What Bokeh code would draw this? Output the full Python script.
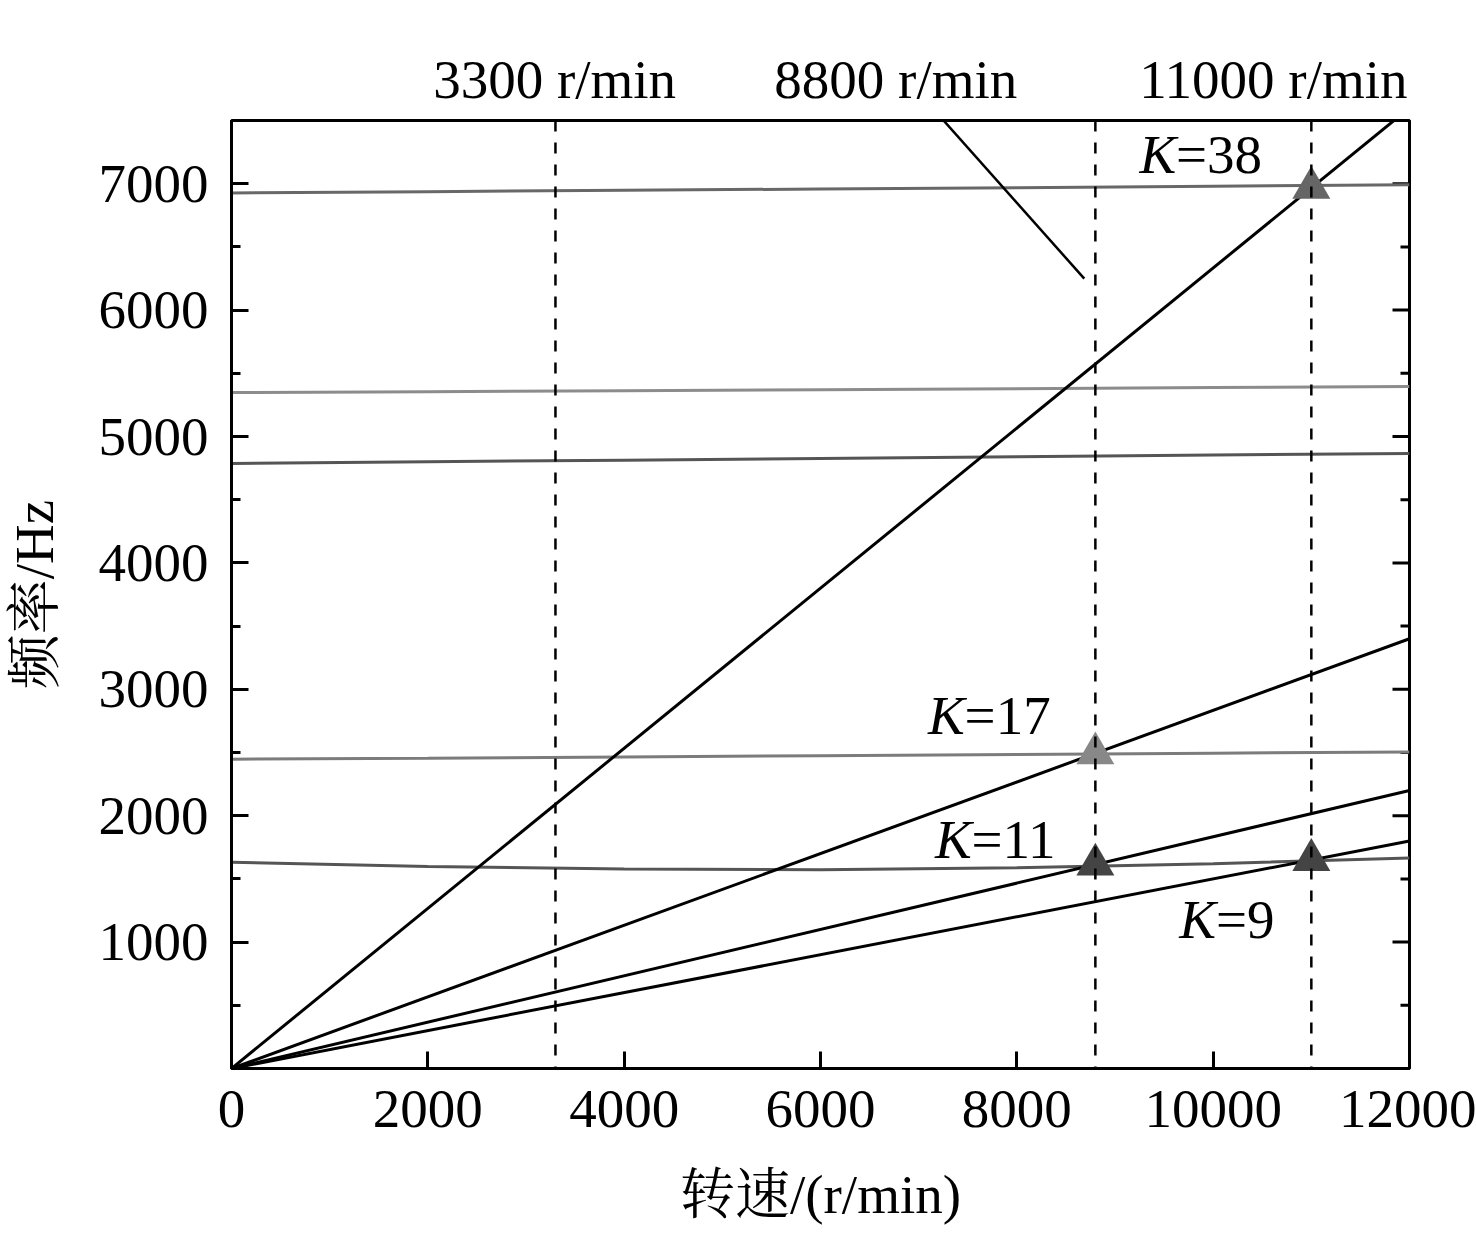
from bokeh.plotting import figure
from bokeh.models import Range1d, LinearAxis, FixedTicker, Span, Arrow
from bokeh.core.properties import value
from bokeh.embed import file_html
from bokeh.resources import INLINE

# ---- data ----
speed = [0, 12000]                      # r/min
orders = ["38", "17", "11", "9"]
exc_end = [7600, 3400, 2200, 1800]      # excitation frequency at 12000 r/min

nat_x = [0, 2000, 4000, 6000, 8000, 10000, 12000]
nat_a = [6927, 6937, 6948, 6958, 6968, 6980, 6992]
nat_b = [5348, 5355, 5362, 5370, 5378, 5387, 5395]
nat_c = [4787, 4800, 4813, 4826, 4840, 4853, 4866]
nat_d = [2447, 2455, 2465, 2475, 2485, 2495, 2504]
nat_e = [1632, 1598, 1578, 1572, 1588, 1620, 1666]
nat_colors = ["#686868", "#8c8c8c", "#555555", "#7c7c7c", "#555555"]

ref_speeds = [3300, 8800, 11000]
ref_texts = ["3300 r/min", "8800 r/min", "11000 r/min"]
ref_text_x = [3292, 6767, 10613]

mark_x = [11000, 8800, 8800, 11000]
mark_y = [6967, 2493, 1613, 1650]
mark_colors = ["#666666", "#888888", "#444444", "#444444"]

k_x = [9622, 7468, 7539, 10029]
k_y = [7229, 2794, 1814, 1182]

x_ticks = [0, 2000, 4000, 6000, 8000, 10000, 12000]
y_ticks = [1000, 2000, 3000, 4000, 5000, 6000, 7000]
y_minor = [500, 1500, 2500, 3500, 4500, 5500, 6500]

SERIF = "Liberation Serif"
CJK = "'Liberation Serif', 'Noto Serif CJK SC', 'Noto Sans CJK SC'"
FS = "55px"

p = figure(width=1476, height=1234, output_backend="svg", toolbar_location=None,
           x_range=Range1d(0, 12000), y_range=Range1d(0, 7500),
           min_border_left=228, min_border_right=67, min_border_top=120, min_border_bottom=166,
           x_axis_location=None, y_axis_location=None)
p.grid.visible = False
p.background_fill_color = "white"
p.border_fill_color = "white"
p.outline_line_color = "black"
p.outline_line_width = 3

def style_axis(ax, ticks, minor):
    ax.ticker = FixedTicker(ticks=ticks, minor_ticks=minor)
    ax.axis_line_width = 3
    ax.axis_line_color = "black"
    ax.major_tick_line_width = 3
    ax.minor_tick_line_width = 3
    ax.major_tick_in = 17
    ax.major_tick_out = 0
    ax.minor_tick_in = 9
    ax.minor_tick_out = 0
    ax.major_label_text_font = SERIF
    ax.major_label_text_font_size = FS
    ax.major_label_text_color = "black"
    ax.axis_label_text_font = CJK
    ax.axis_label_text_font_size = FS
    ax.axis_label_text_font_style = "normal"
    ax.axis_label_text_color = "black"

xax = LinearAxis(axis_label="转速/(r/min)")
style_axis(xax, x_ticks, [])
xax.major_label_standoff = 22
xax.axis_label_standoff = 34
p.add_layout(xax, "below")

yax = LinearAxis(axis_label="频率/Hz")
style_axis(yax, y_ticks, y_minor)
yax.major_label_standoff = 23
yax.axis_label_standoff = 31
p.add_layout(yax, "left")

# top axis used only to place the reference-speed captions above the frame
tax = LinearAxis(ticker=FixedTicker(ticks=ref_text_x, minor_ticks=[]),
                 major_label_overrides={x: t for x, t in zip(ref_text_x, ref_texts)})
tax.axis_line_color = None
tax.major_tick_line_color = None
tax.minor_tick_line_color = None
tax.major_label_standoff = 5
tax.major_label_text_font = SERIF
tax.major_label_text_font_size = FS
tax.major_label_text_color = "black"
p.add_layout(tax, "above")

# right-side inward ticks (mirrored from the left axis)
p.scatter([12000] * len(y_ticks), y_ticks, marker="dash", size=34, line_color="black", line_width=3)
p.scatter([12000] * len(y_minor), y_minor, marker="dash", size=18, line_color="black", line_width=3)

# natural frequency lines
for ys, c in zip([nat_a, nat_b, nat_c, nat_d, nat_e], nat_colors):
    p.line(nat_x, ys, line_color=c, line_width=3)

# excitation lines
for fe in exc_end:
    p.line(speed, [0, fe], line_color="black", line_width=3)

# reference speeds
for s in ref_speeds:
    p.add_layout(Span(location=s, dimension="height", line_color="black",
                      line_width=2.5, line_dash="11 11"))

# markers
p.scatter(mark_x, mark_y, marker="triangle", size=38, fill_color=mark_colors,
          line_color=None)

# K labels
p.text(x=k_x, y=k_y, text=["K"] * len(k_x), text_align="right", text_baseline="middle",
       text_font=value(SERIF), text_font_style="italic", text_font_size=FS, text_color="black")
p.text(x=k_x, y=k_y, text=["=" + o for o in orders], text_align="left", text_baseline="middle",
       text_font=value(SERIF), text_font_size=FS, text_color="black")

# leader line
p.add_layout(Arrow(end=None, x_start=7184, y_start=7561, x_end=8687, y_end=6249,
                   line_color="black", line_width=2.5))

open("out.html", "w").write(file_html(p, INLINE))
